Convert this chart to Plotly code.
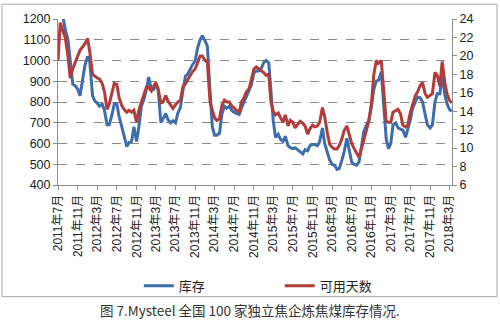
import pandas as pd
import plotly.graph_objects as go

# Semi-monthly observation dates, July 2011 - March 2018
dates = pd.date_range("2011-07-01", periods=162, freq="SMS")

# 库存 (inventory, 10k t) - left axis
inventory = [
    1250, 1240, 1210, 1150, 1100, 990, 885, 880, 860, 830,
    920, 975, 1020, 990, 830, 805, 795, 780, 790, 760,
    690, 690, 740, 790, 790, 730, 680, 630, 585, 605,
    610, 680, 610, 680, 780, 810, 860, 920, 860, 860,
    885, 860, 700, 720, 745, 715, 700, 710, 700, 745,
    775, 850, 925, 935, 960, 980, 1000, 1060, 1100, 1120,
    1095, 1070, 850, 680, 640, 640, 650, 740, 780, 770,
    780, 760, 750, 745, 740, 770, 800, 830, 850, 880,
    940, 950, 950, 960, 990, 1000, 990, 830, 710, 630,
    645, 620, 610, 635, 590, 580, 575, 580, 570, 560,
    550, 570, 565, 590, 595, 595, 590, 610, 675, 600,
    560, 520, 500, 495, 475, 480, 520, 560, 625, 575,
    510, 500, 495, 510, 600, 660, 690, 710, 780, 860,
    900, 905, 945, 800, 620, 575, 600, 690, 700, 675,
    670, 665, 630, 665, 715, 770, 800, 825, 820, 800,
    740, 690, 675, 690, 800, 840, 840, 940, 830, 790,
    765, 755,
]

# 可用天数 (days of usage) - right axis
days = [
    19.5, 23.6, 22.7, 22.0, 20.0, 17.6, 18.6, 19.3, 20.0, 20.6,
    21.0, 21.3, 21.9, 20.4, 18.0, 17.8, 17.6, 17.5, 17.0, 16.1,
    14.2, 14.8, 16.0, 17.0, 16.9, 15.5, 14.6, 14.2, 13.9, 14.1,
    13.9, 14.1, 12.8, 14.1, 15.0, 15.7, 16.6, 16.6, 16.2, 16.7,
    17.1, 16.4, 14.9, 15.0, 15.7, 15.1, 14.7, 14.3, 14.7, 15.0,
    15.2, 16.6, 17.0, 17.4, 17.8, 18.3, 18.6, 19.2, 20.0, 20.0,
    19.5, 19.3, 15.0, 14.1, 13.3, 13.0, 13.2, 14.6, 15.2, 15.0,
    15.0, 14.6, 14.3, 14.1, 13.9, 15.0, 15.5, 16.1, 16.4, 17.3,
    18.6, 18.8, 18.6, 18.4, 18.2, 17.9, 18.0, 15.0, 14.0, 13.6,
    13.8, 13.3, 12.8, 13.6, 12.4, 13.0, 12.8, 12.2, 12.6, 12.9,
    12.7, 12.4, 11.5, 12.1, 12.5, 12.3, 12.4, 12.8, 14.4, 13.4,
    11.6, 10.4, 10.1, 9.9, 9.9, 10.3, 11.0, 11.9, 12.4, 11.5,
    10.5, 10.0, 9.5, 9.0, 10.0, 11.0, 12.0, 12.9, 14.8, 17.9,
    19.5, 19.2, 19.5, 16.4, 12.9, 12.8, 12.8, 13.9, 14.1, 14.2,
    13.7, 12.5, 12.3, 12.5, 13.9, 14.8, 15.7, 16.1, 16.8, 17.1,
    15.9, 15.5, 15.7, 15.9, 18.2, 17.9, 16.7, 19.4, 17.0, 15.8,
    15.2, 14.9,
]

tick_dates = pd.date_range("2011-07-01", "2018-03-01", freq="4MS")
tick_labels = [
    "2011年7月", "2011年11月", "2012年3月", "2012年7月", "2012年11月",
    "2013年3月", "2013年7月", "2013年11月", "2014年3月", "2014年7月",
    "2014年11月", "2015年3月", "2015年7月", "2015年11月", "2016年3月",
    "2016年7月", "2016年11月", "2017年3月", "2017年7月", "2017年11月",
    "2018年3月",
]

BLUE = "#3D6DAD"
RED = "#B23C3A"
FONT = "Liberation Sans, Noto Sans CJK SC, sans-serif"
AXIS_GREY = "#8C8C8C"

fig = go.Figure()
fig.add_trace(go.Scatter(
    x=dates, y=inventory, name="库存", mode="lines",
    line=dict(color=BLUE, width=3),
))
fig.add_trace(go.Scatter(
    x=dates, y=days, name="可用天数", mode="lines", yaxis="y2",
    line=dict(color=RED, width=3),
))

fig.update_layout(
    width=500, height=323,
    margin=dict(l=58, r=48, t=17, b=138),
    paper_bgcolor="white", plot_bgcolor="white",
    font=dict(family=FONT, size=12, color="#222"),
    showlegend=True,
    legend=dict(
        orientation="h", x=0.205, y=-0.607, xanchor="left", yanchor="middle",
        entrywidth=96, font=dict(size=13, color="#222"),
        bgcolor="rgba(0,0,0,0)",
    ),
    xaxis=dict(
        type="date",
        range=["2011-07-01", "2018-03-17"],
        tickvals=list(tick_dates), ticktext=tick_labels,
        tickangle=-90, tickfont=dict(size=12),
        ticks="outside", ticklen=4, tickcolor=AXIS_GREY,
        showline=True, linecolor=AXIS_GREY, linewidth=1,
        showgrid=False, zeroline=False,
    ),
    yaxis=dict(
        range=[400, 1200], dtick=100,
        ticks="outside", ticklen=4, tickcolor=AXIS_GREY,
        showline=True, linecolor=AXIS_GREY, linewidth=1,
        showgrid=True, gridcolor="#8a8a8a", griddash="dash", gridwidth=1,
        zeroline=False, tickfont=dict(size=12.5),
    ),
    yaxis2=dict(
        range=[6, 24], dtick=2, overlaying="y", side="right",
        ticks="outside", ticklen=4, tickcolor=AXIS_GREY,
        showline=True, linecolor=AXIS_GREY, linewidth=1,
        showgrid=False, zeroline=False, tickfont=dict(size=12.5),
    ),
    shapes=[
        dict(type="rect", xref="paper", yref="paper",
             x0=-0.1421, x1=1.1142, y0=-0.6726, y1=1.0893,
             line=dict(color="#A6A6A6", width=1), layer="below"),
    ],
    annotations=[
        dict(text="图 7.Mysteel 全国 100 家独立焦企炼焦煤库存情况.",
             xref="paper", yref="paper", x=0.487, y=-0.75,
             xanchor="center", yanchor="middle", showarrow=False,
             font=dict(family="Noto Sans CJK SC, sans-serif", size=13.5, color="#333")),
    ],
)

fig.write_html("out.html")
